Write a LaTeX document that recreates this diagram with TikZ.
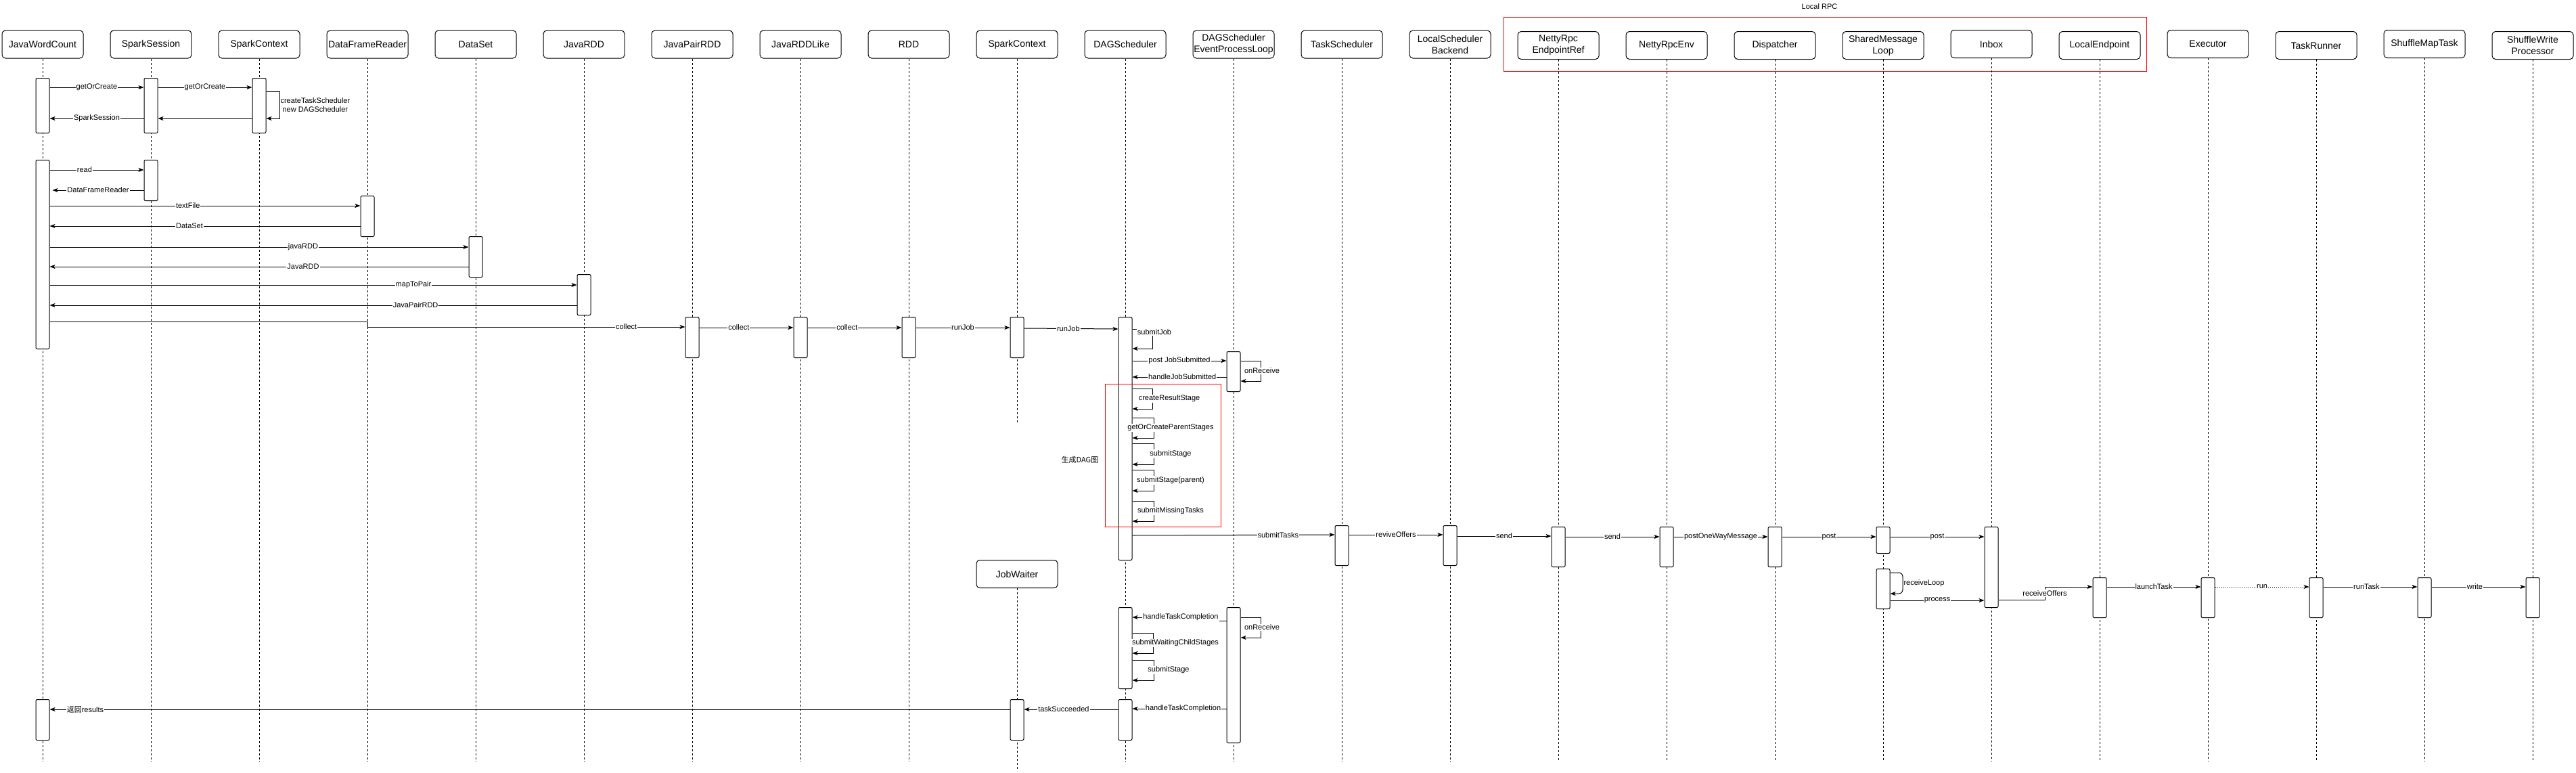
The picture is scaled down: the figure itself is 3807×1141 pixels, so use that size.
\documentclass[tikz,border=0pt]{standalone}
\usepackage{fontspec}
\setmainfont{Liberation Sans}
\newfontfamily\cjk{Noto Sans CJK SC}
\usepackage{tikz}
\usetikzlibrary{arrows.meta}

\begin{document}
\begin{tikzpicture}[x=1pt, y=-1pt, line width=1pt,
    head/.style={draw, rounded corners=5pt, minimum width=120pt, minimum height=41pt,
        inner xsep=1pt, inner ysep=2pt, align=center, font=\fontsize{14}{17}\selectfont},
    act/.style={draw, fill=white, rounded corners=2pt, minimum width=20pt, inner sep=0pt, anchor=north},
    life/.style={dash pattern=on 3pt off 3pt, line width=0.8pt},
    msg/.style={-{Stealth[length=8pt,width=6pt,inset=2pt]}},
    lbl/.style={fill=white, inner sep=1pt, font=\fontsize{11}{13}\selectfont},
    frame/.style={draw=red, line width=1pt}]
    \useasboundingbox (0,0) rectangle (3807,1141);

    % Participants
    \node[head] (jwc) at (63,65.5) {JavaWordCount};
    \node[head] (ss) at (223,65.5) {SparkSession};
    \node[head] (sc) at (383,65.5) {SparkContext};
    \node[head] (dfr) at (543,65.5) {DataFrameReader};
    \node[head] (ds) at (703,65.5) {DataSet};
    \node[head] (jrdd) at (863,65.5) {JavaRDD};
    \node[head] (jprdd) at (1023,65.5) {JavaPairRDD};
    \node[head] (jrl) at (1183,65.5) {JavaRDDLike};
    \node[head] (rdd) at (1343,65.5) {RDD};
    \node[head] (sc2) at (1503,65.5) {SparkContext};
    \node[head] (dag) at (1663,65.5) {DAGScheduler};
    \node[head] (eloop) at (1823,65.5) {DAGScheduler\\EventProcessLoop};
    \node[head] (ts) at (1983,65.5) {TaskScheduler};
    \node[head] (lsb) at (2143,65.5) {LocalScheduler\\Backend};
    \node[head] (nref) at (2303,67) {NettyRpc\\EndpointRef};
    \node[head] (nenv) at (2463,67) {NettyRpcEnv};
    \node[head] (disp) at (2623,67) {Dispatcher};
    \node[head] (sml) at (2783,67) {SharedMessage\\Loop};
    \node[head] (inbox) at (2943,65) {Inbox};
    \node[head] (lep) at (3103,67) {LocalEndpoint};
    \node[head] (exec) at (3263,65) {Executor};
    \node[head] (trun) at (3423,67) {TaskRunner};
    \node[head] (smt) at (3583,65) {ShuffleMapTask};
    \node[head] (swp) at (3743,67) {ShuffleWrite\\Processor};
    \node[head] (jw) at (1503,848) {JobWaiter};

    % Local RPC group
    \draw[frame] (2222,25) rectangle (3172,105);
    \node[lbl, fill=none] (rpc) at (2689,10) {Local RPC};

    % Lifelines
    \draw[life] (jwc.south) -- (jwc.south |- 0,1125);
    \draw[life] (ss.south) -- (ss.south |- 0,1125);
    \draw[life] (sc.south) -- (sc.south |- 0,1125);
    \draw[life] (dfr.south) -- (dfr.south |- 0,1125);
    \draw[life] (ds.south) -- (ds.south |- 0,1125);
    \draw[life] (jrdd.south) -- (jrdd.south |- 0,1125);
    \draw[life] (jprdd.south) -- (jprdd.south |- 0,1125);
    \draw[life] (jrl.south) -- (jrl.south |- 0,1125);
    \draw[life] (rdd.south) -- (rdd.south |- 0,1125);
    \draw[life] (sc2.south) -- (sc2.south |- 0,625);
    \draw[life] (dag.south) -- (dag.south |- 0,1125);
    \draw[life] (eloop.south) -- (eloop.south |- 0,1125);
    \draw[life] (ts.south) -- (ts.south |- 0,1125);
    \draw[life] (lsb.south) -- (lsb.south |- 0,1125);
    \draw[life] (nref.south) -- (nref.south |- 0,1125);
    \draw[life] (nenv.south) -- (nenv.south |- 0,1125);
    \draw[life] (disp.south) -- (disp.south |- 0,1125);
    \draw[life] (sml.south) -- (sml.south |- 0,1125);
    \draw[life] (inbox.south) -- (inbox.south |- 0,1125);
    \draw[life] (lep.south) -- (lep.south |- 0,1125);
    \draw[life] (exec.south) -- (exec.south |- 0,1125);
    \draw[life] (trun.south) -- (trun.south |- 0,1125);
    \draw[life] (smt.south) -- (smt.south |- 0,1125);
    \draw[life] (swp.south) -- (swp.south |- 0,1125);
    \draw[life] (jw.south) -- (jw.south |- 0,1136);

    % Activations
    \node[act, minimum height=81pt] (jwcA) at (63,115) {};
    \node[act, minimum height=81pt] (ssA) at (223,115) {};
    \node[act, minimum height=81pt] (scA) at (383,115) {};
    \node[act, minimum height=279pt] (jwcB) at (63,236) {};
    \node[act, minimum height=60pt] (ssB) at (223,236) {};
    \node[act, minimum height=60pt] (dfrA) at (543,289) {};
    \node[act, minimum height=60pt] (dsA) at (703,349) {};
    \node[act, minimum height=60pt] (jrddA) at (863,405) {};
    \node[act, minimum height=60pt] (jprddA) at (1023,468) {};
    \node[act, minimum height=60pt] (jrlA) at (1183,468) {};
    \node[act, minimum height=60pt] (rddA) at (1343,468) {};
    \node[act, minimum height=60pt] (sc2A) at (1503,468) {};
    \node[act, minimum height=359pt] (dagA) at (1663,468) {};
    \node[act, minimum height=59pt] (eloopA) at (1823,519) {};
    \node[act, minimum height=59pt] (tsA) at (1983,776) {};
    \node[act, minimum height=59pt] (lsbA) at (2143,776) {};
    \node[act, minimum height=59pt] (nrefA) at (2303,778) {};
    \node[act, minimum height=59pt] (nenvA) at (2463,778) {};
    \node[act, minimum height=59pt] (dispA) at (2623,778) {};
    \node[act, minimum height=39pt] (smlA) at (2783,778) {};
    \node[act, minimum height=119pt] (inboxA) at (2943,778) {};
    \node[act, minimum height=59pt] (smlB) at (2783,840) {};
    \node[act, minimum height=59pt] (lepA) at (3103,853) {};
    \node[act, minimum height=59pt] (execA) at (3263,853) {};
    \node[act, minimum height=59pt] (trunA) at (3423,853) {};
    \node[act, minimum height=59pt] (smtA) at (3583,853) {};
    \node[act, minimum height=59pt] (swpA) at (3743,853) {};
    \node[act, minimum height=120pt] (dagB) at (1663,897) {};
    \node[act, minimum height=200pt] (eloopB) at (1823,897) {};
    \node[act, minimum height=60pt] (dagC) at (1663,1033) {};
    \node[act, minimum height=60pt] (jwA) at (1503,1033) {};
    \node[act, minimum height=60pt] (jwcC) at (63,1033) {};

    % Session and context creation
    \draw[msg] (jwcA.east |- 0,129) -- node[lbl] {getOrCreate} (ssA.west |- 0,129);
    \draw[msg] (ssA.east |- 0,129) -- node[lbl] {getOrCreate} (scA.west |- 0,129);
    \draw[msg] (scA.east |- 0,135) -- (413,135) -- (413,175) -- (scA.east |- 0,175);
    \node[lbl, fill=none, anchor=west, align=center] (sclbl) at (413,155) {createTaskScheduler\\new DAGScheduler};
    \draw[msg] (scA.west |- 0,175) -- (ssA.east |- 0,175);
    \draw[msg] (ssA.west |- 0,175) -- node[lbl] {SparkSession} (jwcA.east |- 0,175);

    % Reading and transformations
    \draw[msg] (jwcB.east |- 0,251) -- node[lbl, pos=0.37] {read} (ssB.west |- 0,251);
    \draw[msg] (ssB.west |- 0,281) -- node[lbl] {DataFrameReader} ([xshift=4pt]jwcB.east |- 0,281);
    \draw[msg] (jwcB.east |- 0,304) -- node[lbl, pos=0.445] {textFile} (dfrA.west |- 0,304);
    \draw[msg] (dfrA.west |- 0,334) -- node[lbl, pos=0.55] {DataSet} (jwcB.east |- 0,334);
    \draw[msg] (jwcB.east |- 0,365) -- node[lbl, pos=0.605] {javaRDD} (dsA.west |- 0,365);
    \draw[msg] (dsA.west |- 0,394) -- node[lbl, pos=0.395] {JavaRDD} (jwcB.east |- 0,394);
    \draw[msg] (jwcB.east |- 0,421) -- node[lbl, pos=0.69] {mapToPair} (jrddA.west |- 0,421);
    \draw[msg] (jrddA.west |- 0,451) -- node[lbl, pos=0.306] {JavaPairRDD} (jwcB.east |- 0,451);

    % collect / runJob chain
    \draw[msg] (jwcB.east |- 0,475) -- (dfr.south |- 0,475) -- (dfr.south |- 0,483)
        -- node[lbl, pos=0.815] {collect} (jprddA.west |- 0,483);
    \draw[msg] (jprddA.east |- 0,484) -- node[lbl, pos=0.42] {collect} (jrlA.west |- 0,484);
    \draw[msg] (jrlA.east |- 0,484) -- node[lbl, pos=0.42] {collect} (rddA.west |- 0,484);
    \draw[msg] (rddA.east |- 0,484) -- node[lbl] {runJob} (sc2A.west |- 0,484);
    \draw[msg] (sc2A.east |- 0,485) -- node[lbl, pos=0.47] {runJob} (dagA.west |- 0,486);

    % DAGScheduler
    \draw[msg] (dagA.east |- 0,486) -- (1703,486) -- (1703,515) -- (dagA.east |- 0,515);
    \node[lbl] (sjlbl) at (1706,491) {submitJob};
    \draw[msg] (dagA.east |- 0,533) -- node[lbl] {post JobSubmitted} (eloopA.west |- 0,533);
    \draw[msg] (eloopA.east |- 0,533) -- (1863,533) -- node[lbl, xshift=2pt] {onReceive} (1863,563) -- (eloopA.east |- 0,563);
    \draw[msg] (eloopA.west |- 0,557) -- node[lbl, pos=0.47] {handleJobSubmitted} (dagA.east |- 0,557);

    \draw[msg] (dagA.east |- 0,574) -- (1703,574) -- node[lbl, xshift=25pt] {createResultStage} (1703,604) -- (dagA.east |- 0,604);
    \draw[msg] (dagA.east |- 0,617) -- (1705,617) -- node[lbl, xshift=25pt] {getOrCreateParentStages} (1705,647) -- (dagA.east |- 0,647);
    \draw[msg] (dagA.east |- 0,655) -- (1705,655) -- node[lbl, xshift=25pt] {submitStage} (1705,686) -- (dagA.east |- 0,686);
    \draw[msg] (dagA.east |- 0,694) -- (1705,694) -- node[lbl, xshift=25pt] {submitStage(parent)} (1705,725) -- (dagA.east |- 0,725);
    \draw[msg] (dagA.east |- 0,740) -- (1705,740) -- node[lbl, xshift=25pt] {submitMissingTasks} (1705,770) -- (dagA.east |- 0,770);
    \draw[draw=red, line width=0.8pt] (1633,567) rectangle (1804,778);
    \node[lbl, fill=none] (daglbl) at (1596,679) {\cjk 生成DAG图};

    % Task submission through local RPC
    \draw[msg] (dagA.east |- 0,791) -- node[lbl, pos=0.72] {submitTasks} (tsA.west |- 0,790);
    \draw[msg] (tsA.east |- 0,790) -- node[lbl] {reviveOffers} (lsbA.west |- 0,790);
    \draw[msg] (lsbA.east |- 0,792) -- node[lbl] {send} (nrefA.west |- 0,792);
    \draw[msg] (nrefA.east |- 0,793) -- node[lbl] {send} (nenvA.west |- 0,793);
    \draw[msg] (nenvA.east |- 0,793) -- node[lbl] {postOneWayMessage} (dispA.west |- 0,793);
    \draw[msg] (dispA.east |- 0,793) -- node[lbl] {post} (smlA.west |- 0,793);
    \draw[msg] (smlA.east |- 0,793) -- node[lbl] {post} (inboxA.west |- 0,793);
    \draw[msg, rounded corners=6pt] (smlB.east |- 0,846) -- (2812,846) -- node[lbl, fill=none, anchor=west] {receiveLoop} (2812,877) -- (smlB.east |- 0,877);
    \draw[msg] (smlB.east |- 0,887) -- node[lbl] {process} (inboxA.west |- 0,887);
    \draw[msg] (inboxA.east |- 0,886) -- (3022,886) -- node[lbl] {receiveOffers} (3022,867) -- (lepA.west |- 0,867);
    \draw[msg] (lepA.east |- 0,867) -- node[lbl] {launchTask} (execA.west |- 0,867);
    \draw[msg, dotted] (execA.east |- 0,867) -- node[lbl] {run} (trunA.west |- 0,867);
    \draw[msg] (trunA.east |- 0,867) -- node[lbl, pos=0.46] {runTask} (smtA.west |- 0,867);
    \draw[msg] (smtA.east |- 0,867) -- node[lbl, pos=0.46] {write} (swpA.west |- 0,867);

    % Task completion
    \draw[msg] (eloopB.west |- 0,917) -- (1801,917) -- (1801,912) -- node[lbl, pos=0.44] {handleTaskCompletion} (dagB.east |- 0,912);
    \draw[msg] (eloopB.east |- 0,912) -- (1863,912) -- node[lbl, xshift=2pt] {onReceive} (1863,942) -- (eloopB.east |- 0,942);
    \draw[msg] (dagB.east |- 0,935) -- (1704,935) -- node[lbl, xshift=33pt] {submitWaitingChildStages} (1704,965) -- (dagB.east |- 0,965);
    \draw[msg] (dagB.east |- 0,975) -- (1705,975) -- node[lbl, xshift=22pt] {submitStage} (1705,1005) -- (dagB.east |- 0,1005);
    \draw[msg] (eloopB.west |- 0,1047) -- node[lbl, pos=0.46] {handleTaskCompletion} (dagC.east |- 0,1047);
    \draw[msg] (dagC.west |- 0,1048) -- node[lbl, pos=0.58] {taskSucceeded} (jwA.east |- 0,1048);
    \draw[msg] (jwA.west |- 0,1048) -- node[lbl, pos=0.963] {\cjk 返回\rmfamily results} (jwcC.east |- 0,1048);
\end{tikzpicture}
\end{document}
